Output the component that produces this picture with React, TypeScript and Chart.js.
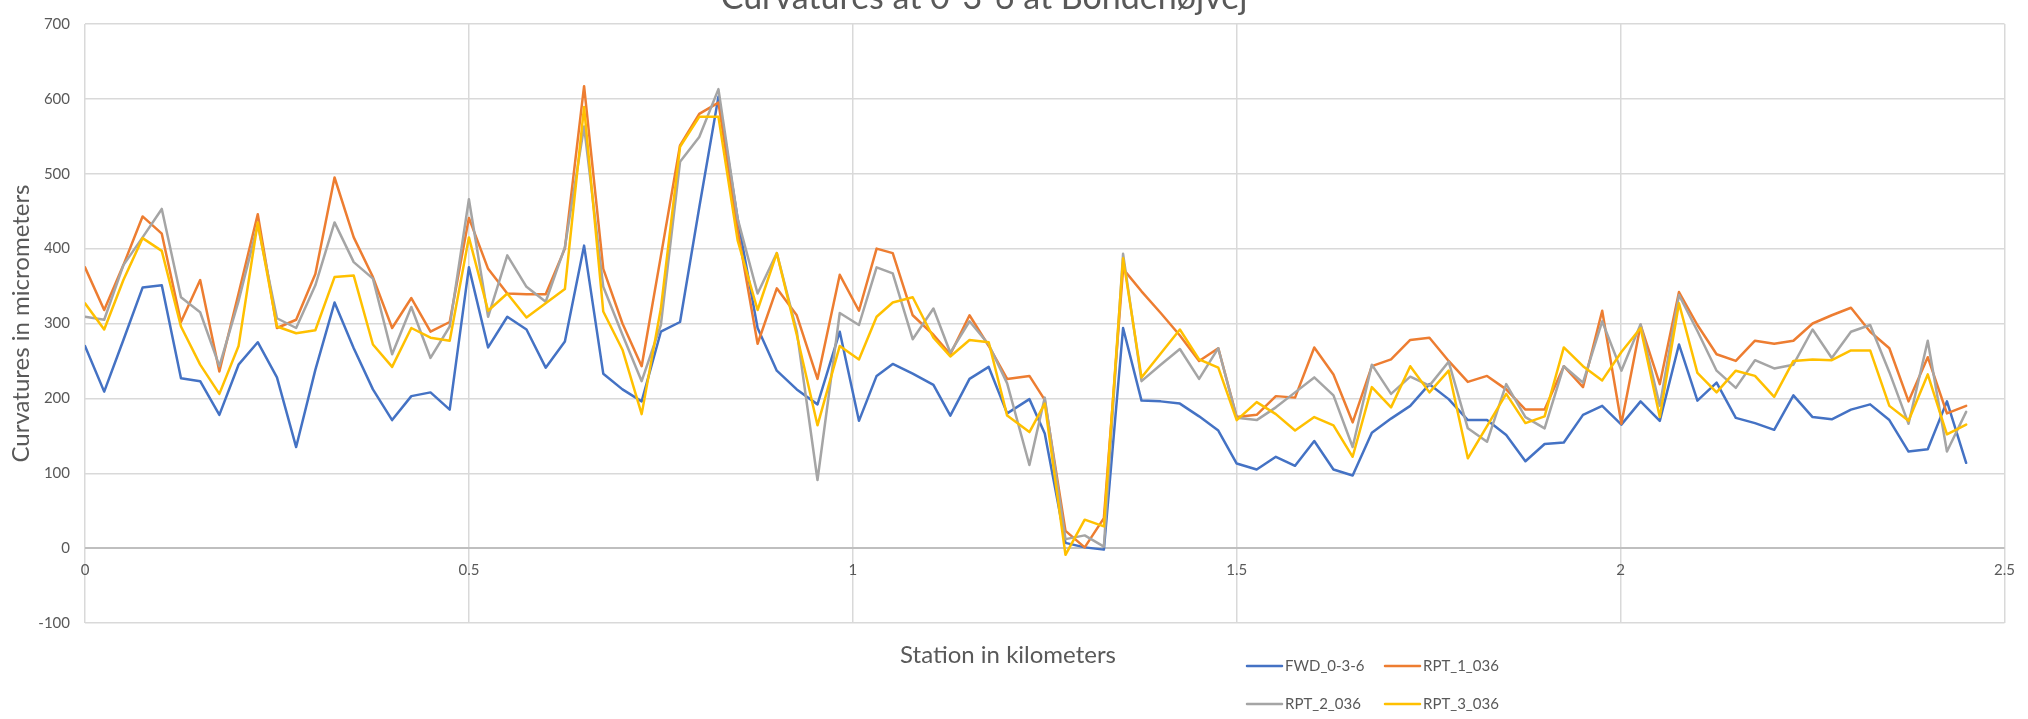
import { useEffect, useRef } from 'react';
import { Chart, registerables } from 'chart.js';

Chart.register(...registerables);

const TITLE = 'Curvatures at 0-3-6 at Bondehøjvej';
const X_TITLE = 'Station in kilometers';
const Y_TITLE = 'Curvatures in micrometers';

const SERIES_NAMES = ['FWD_0-3-6', 'RPT_1_036', 'RPT_2_036', 'RPT_3_036'];
const COLORS = ['#4472C4', '#ED7D31', '#A5A5A5', '#FFC000'];

const STATIONS = [
  0, 0.025, 0.05, 0.075, 0.1, 0.125, 0.15, 0.175, 0.2, 0.225,
  0.25, 0.275, 0.3, 0.325, 0.35, 0.375, 0.4, 0.425, 0.45, 0.475,
  0.5, 0.525, 0.55, 0.575, 0.6, 0.625, 0.65, 0.675, 0.7, 0.725,
  0.75, 0.775, 0.8, 0.825, 0.85, 0.876, 0.901, 0.927, 0.954, 0.983,
  1.008, 1.031, 1.052, 1.078, 1.105, 1.127, 1.152, 1.177, 1.201, 1.23,
  1.25, 1.277, 1.302, 1.327, 1.352, 1.376, 1.401, 1.426, 1.451, 1.476,
  1.5, 1.526, 1.551, 1.576, 1.601, 1.626, 1.651, 1.676, 1.701, 1.726,
  1.751, 1.776, 1.801, 1.826, 1.851, 1.876, 1.901, 1.926, 1.951, 1.976,
  2.001, 2.026, 2.051, 2.076, 2.1, 2.125, 2.15, 2.175, 2.2, 2.225,
  2.25, 2.275, 2.3, 2.325, 2.35, 2.375, 2.4, 2.425, 2.45,
];

const FWD_0_3_6 = [
  270, 209, 278, 348, 351, 227, 223, 178, 245, 275,
  228, 135, 238, 328, 267, 212, 171, 203, 208, 185,
  375, 268, 309, 292, 241, 276, 404, 233, 212, 196,
  289, 302, 455, 603, 440, 294, 237, 212, 192, 289,
  170, 230, 246, 233, 218, 177, 226, 242, 180, 199,
  153, 7, 1, -2, 294, 197, 196, 193, 176, 157,
  113, 105, 122, 110, 143, 105, 97, 154, 173, 190,
  219, 199, 171, 171, 151, 116, 139, 141, 178, 190,
  165, 196, 170, 272, 197, 221, 174, 167, 158, 204,
  175, 172, 185, 192, 171, 129, 132, 196, 114,
];

const RPT_1_036 = [
  375, 318, 378, 443, 420, 302, 358, 236, 340, 446,
  294, 305, 366, 495, 415, 362, 294, 334, 289, 302,
  441, 373, 340, 339, 339, 400, 617, 373, 300, 243,
  390, 538, 580, 595, 425, 273, 347, 311, 226, 365,
  317, 400, 394, 311, 285, 259, 311, 270, 226, 230,
  198, 23, 1, 40, 373, 343, 314, 284, 250, 267,
  175, 178, 203, 201, 268, 232, 168, 243, 252, 278,
  281, 250, 222, 230, 212, 185, 185, 243, 215, 317,
  166, 298, 219, 342, 298, 259, 250, 277, 273, 277,
  300, 311, 321, 289, 267, 196, 255, 180, 190,
];

const RPT_2_036 = [
  309, 305, 378, 415, 453, 335, 315, 243, 330, 432,
  307, 294, 351, 435, 382, 360, 259, 322, 254, 296,
  466, 309, 391, 349, 329, 402, 563, 349, 285, 223,
  298, 516, 549, 613, 440, 340, 394, 290, 91, 314,
  298, 375, 367, 279, 320, 261, 303, 272, 220, 111,
  201, 12, 17, 2, 393, 223, 245, 266, 226, 267,
  174, 171, 188, 208, 228, 204, 135, 245, 206, 229,
  217, 249, 160, 142, 219, 175, 160, 243, 221, 303,
  237, 299, 190, 338, 290, 237, 214, 251, 240, 245,
  292, 254, 289, 298, 235, 166, 277, 129, 182,
];

const RPT_3_036 = [
  327, 292, 358, 414, 397, 296, 245, 206, 270, 435,
  296, 287, 291, 362, 364, 272, 242, 294, 281, 277,
  415, 317, 340, 308, 327, 346, 589, 316, 265, 179,
  320, 536, 576, 576, 411, 318, 394, 285, 164, 270,
  252, 309, 328, 335, 281, 256, 278, 275, 177, 155,
  193, -9, 38, 29, 387, 228, 260, 292, 252, 241,
  171, 195, 179, 157, 175, 164, 122, 215, 188, 243,
  208, 237, 120, 163, 206, 167, 176, 268, 243, 224,
  262, 294, 175, 327, 234, 208, 237, 230, 202, 250,
  252, 251, 264, 264, 190, 170, 232, 152, 165,
];

const SERIES = [FWD_0_3_6, RPT_1_036, RPT_2_036, RPT_3_036];

const TEXT_COLOR = '#595959';
const GRID_COLOR = '#d9d9d9';

const decorPlugin = {
  id: 'excelDecor',
  afterDraw(chart: any) {
    const ctx = chart.ctx;
    ctx.save();
    ctx.fillStyle = TEXT_COLOR;
    // chart title (partly cut off by the top edge, as in the reference)
    ctx.font = '34px Lato';
    ctx.textAlign = 'center';
    ctx.textBaseline = 'alphabetic';
    ctx.fillText(TITLE, 984, 9);
    // x axis title
    ctx.font = '24px Lato';
    ctx.textBaseline = 'middle';
    ctx.fillText(X_TITLE, 1008, 655);
    // legend: 2 x 2 grid at bottom right
    const colX = [1247, 1385];
    const rowY = [666, 704];
    ctx.font = '15px Lato';
    ctx.textAlign = 'left';
    chart.data.datasets.forEach((ds: any, i: number) => {
      const x0 = colX[i % 2];
      const y = rowY[Math.floor(i / 2)];
      ctx.strokeStyle = ds.borderColor;
      ctx.lineWidth = 2.5;
      ctx.lineCap = 'round';
      ctx.beginPath();
      ctx.moveTo(x0, y);
      ctx.lineTo(x0 + 35, y);
      ctx.stroke();
      ctx.fillStyle = TEXT_COLOR;
      ctx.fillText(ds.label, x0 + 38, y);
    });
    ctx.restore();
  },
};

const fmtTick = (v: any) => String(Number(Number(v).toFixed(3)));

export default function App() {
  const canvasRef = useRef<HTMLCanvasElement | null>(null);

  useEffect(() => {
    if (!canvasRef.current) return;
    Chart.defaults.font.family = 'Lato';
    const chart = new Chart(canvasRef.current, {
      type: 'line',
      data: {
        datasets: SERIES.map((vals, i) => ({
          label: SERIES_NAMES[i],
          data: STATIONS.map((x, j) => ({ x, y: vals[j] })),
          borderColor: COLORS[i],
          backgroundColor: COLORS[i],
          borderWidth: 2.5,
          pointRadius: 0,
          pointHoverRadius: 0,
          tension: 0,
          fill: false,
          borderJoinStyle: 'round',
          borderCapStyle: 'round',
          order: 3 - i,
        })),
      },
      options: {
        animation: false,
        responsive: true,
        maintainAspectRatio: false,
        layout: { padding: { top: 15, right: 12, bottom: 96, left: 0 } },
        plugins: {
          legend: { display: false },
          tooltip: { enabled: false },
          title: { display: false },
        },
        scales: {
          x: {
            type: 'linear',
            min: 0,
            max: 2.5,
            ticks: { display: false, stepSize: 0.5 },
            grid: { color: GRID_COLOR, lineWidth: 1.5, drawTicks: false },
            border: { display: false },
            afterFit: (s: any) => { s.height = 0; },
          },
          x2: {
            type: 'linear',
            axis: 'x',
            position: { y: 0 },
            min: 0,
            max: 2.5,
            ticks: { stepSize: 0.5, padding: 13, color: TEXT_COLOR, font: { size: 15 }, callback: fmtTick },
            grid: { display: false, drawTicks: false },
            border: { display: false },
          },
          y: {
            type: 'linear',
            min: -100,
            max: 700,
            ticks: { stepSize: 100, padding: 15, color: TEXT_COLOR, font: { size: 15 }, callback: fmtTick },
            grid: {
              color: (c: any) => (c.tick && c.tick.value === 0 ? '#bfbfbf' : GRID_COLOR),
              lineWidth: (c: any) => (c.tick && c.tick.value === 0 ? 2 : 1.5),
              drawTicks: false,
            },
            border: { display: false },
            title: {
              display: true,
              text: Y_TITLE,
              color: TEXT_COLOR,
              font: { size: 24 },
              padding: { top: 7, bottom: 0 },
            },
            afterFit: (s: any) => { s.width = 85; },
          },
        },
      } as any,
      plugins: [decorPlugin],
    });
    return () => chart.destroy();
  }, []);

  return (
    <div style={{ position: 'absolute', left: 0, top: 0, width: 2028, height: 719, background: '#fff' }}>
      <canvas ref={canvasRef} />
    </div>
  );
}
